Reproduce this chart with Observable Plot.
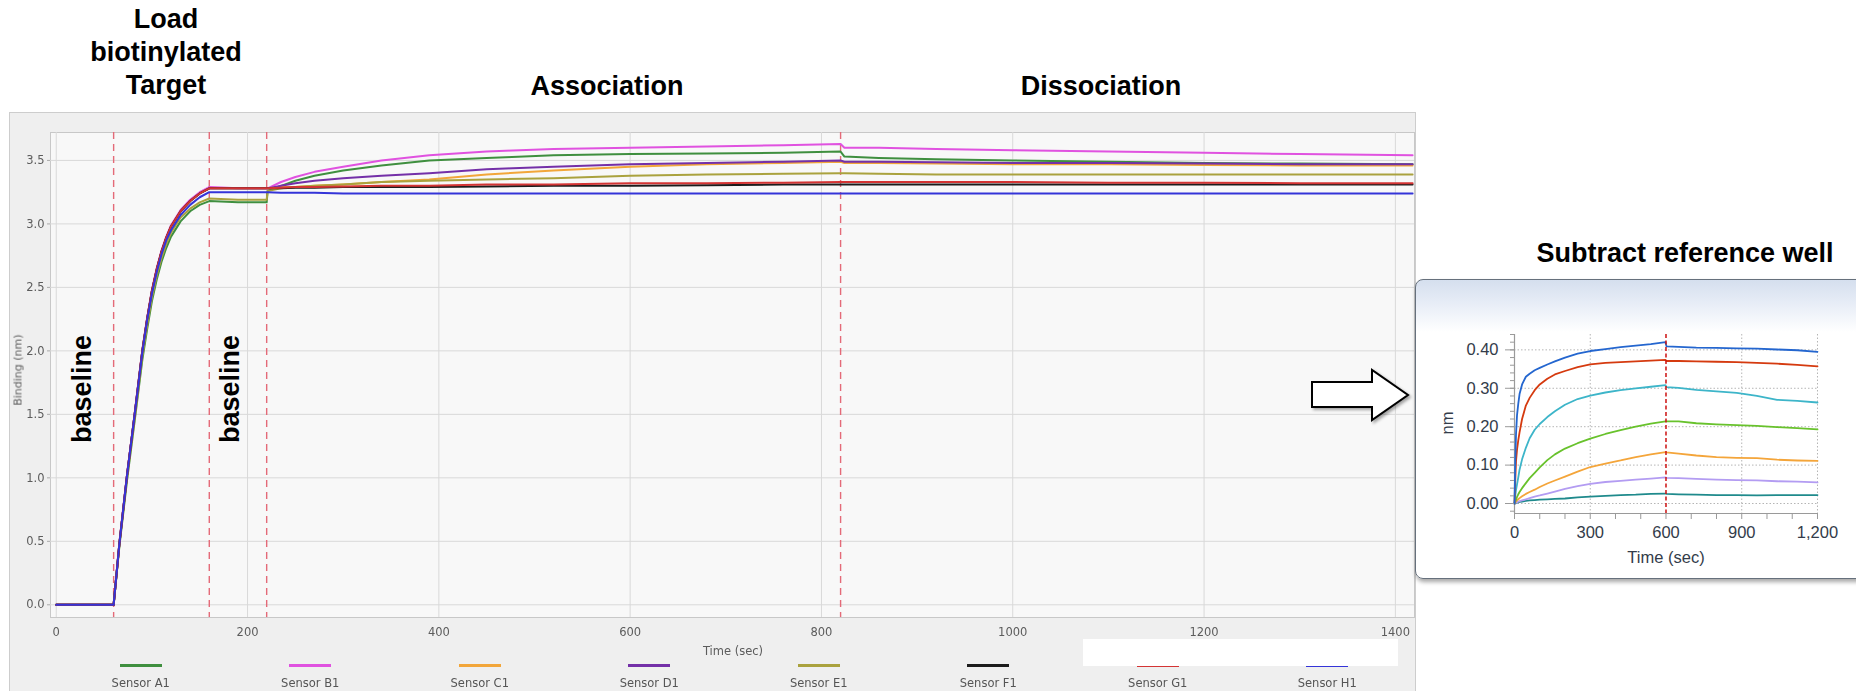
<!DOCTYPE html>
<html>
<head>
<meta charset="utf-8">
<script src="https://cdn.jsdelivr.net/npm/d3@7"></script>
<script src="https://cdn.jsdelivr.net/npm/@observablehq/plot@0.6"></script>
<style>
  html, body { margin: 0; padding: 0; background: #fff; }
  body { width: 1856px; height: 691px; position: relative; overflow: hidden; font-family: "Liberation Sans", Arial, sans-serif; }
  .abs { position: absolute; }
  .ctr { transform: translate(-50%, -50%); white-space: nowrap; }
  .rot { transform: translate(-50%, -50%) rotate(-90deg); white-space: nowrap; }
  .phase { font-weight: bold; font-size: 27px; color: #000; text-align: center; }
  #panel { left: 9px; top: 112px; width: 1407px; height: 600px; background: #efefef; border: 1px solid #cdcdcd; box-sizing: border-box; filter: blur(0.55px); }
  #mainChart { left: 10px; top: 112px; width: 1407px; filter: blur(0.55px); }
  .legendItem { position: absolute; text-align: center; font-family: "DejaVu Sans", sans-serif; font-size: 11.5px; color: #555; filter: blur(0.4px); }
  .legendItem .sw { width: 42px; height: 3px; margin: 0 auto 9px auto; }
  #insetBox { left: 1415px; top: 279px; width: 480px; height: 300px; box-sizing: border-box; border: 1.5px solid #66707c; border-radius: 8px;
              background: linear-gradient(to bottom, #d5dfee 0px, #e6ecf6 22px, #ffffff 52px, #ffffff 100%);
              box-shadow: 1px 3px 4px rgba(0,0,0,0.35); }
  #insetChart { left: 1420px; top: 285px; width: 436px; }
  .insetLabel { font-family: "Liberation Sans", Arial, sans-serif; font-size: 16.5px; color: #333c4a; }
</style>
</head>
<body>
<div id="panel" class="abs"></div>
<div id="mainChart" class="abs"></div>
<div id="legend"></div>
<div id="insetBox" class="abs"></div>
<div id="insetChart" class="abs"></div>
<div id="labels"></div>
<svg class="abs" style="left:1300px;top:360px;overflow:visible" width="120" height="70">
  <defs>
    <filter id="arrowShadow" x="-20%" y="-30%" width="150%" height="170%">
      <feDropShadow dx="2" dy="2" stdDeviation="1.5" flood-color="#000" flood-opacity="0.35"/>
    </filter>
  </defs>
  <polygon points="12,22 72,22 72,10 108,35 72,60 72,47 12,47" fill="#fff" stroke="#000" stroke-width="2" stroke-linejoin="miter" filter="url(#arrowShadow)"/>
</svg>

<script>
// ---------- Main sensorgram: loading, baseline, association, dissociation ----------
const sensors = ["Sensor A1", "Sensor B1", "Sensor C1", "Sensor D1", "Sensor E1", "Sensor F1", "Sensor G1", "Sensor H1"];
const sensorColors = ["#3f8f3f", "#e052e0", "#f2a63a", "#7430a8", "#aaa23e", "#1c1c1c", "#d43434", "#3434d8"];

// time points (sec)
const times = [0, 60, 66, 74, 82, 90, 95, 100, 105, 110, 115, 120, 130, 140, 150, 160,
               190, 220, 221, 235, 250, 270, 300, 340, 390, 450, 520, 600, 680, 760, 820,
               824, 860, 920, 1000, 1100, 1200, 1300, 1418];

// binding (nm) per sensor
const sensorA1 = [0, 0, 0.46, 0.98, 1.45, 1.93, 2.17, 2.39, 2.56, 2.70, 2.81, 2.90, 3.02, 3.10, 3.15, 3.18,
                  3.17, 3.17, 3.26, 3.30, 3.34, 3.38, 3.42, 3.46, 3.50, 3.52, 3.54, 3.55, 3.555, 3.56, 3.57,
                  3.53, 3.52, 3.51, 3.50, 3.49, 3.48, 3.475, 3.47];
const sensorB1 = [0, 0, 0.49, 1.03, 1.51, 2.01, 2.26, 2.48, 2.65, 2.79, 2.90, 2.99, 3.11, 3.19, 3.25, 3.29,
                  3.28, 3.28, 3.28, 3.33, 3.37, 3.41, 3.45, 3.50, 3.54, 3.57, 3.59, 3.60, 3.61, 3.62, 3.63,
                  3.60, 3.60, 3.59, 3.58, 3.57, 3.56, 3.55, 3.54];
const sensorC1 = [0, 0, 0.48, 1.02, 1.50, 2.00, 2.25, 2.47, 2.64, 2.78, 2.89, 2.98, 3.10, 3.18, 3.24, 3.28,
                  3.28, 3.28, 3.28, 3.29, 3.29, 3.30, 3.31, 3.33, 3.35, 3.39, 3.42, 3.45, 3.47, 3.48, 3.49,
                  3.48, 3.48, 3.475, 3.47, 3.47, 3.465, 3.46, 3.46];
const sensorD1 = [0, 0, 0.48, 1.02, 1.50, 2.00, 2.25, 2.47, 2.64, 2.78, 2.89, 2.98, 3.10, 3.18, 3.24, 3.28,
                  3.28, 3.28, 3.28, 3.30, 3.32, 3.34, 3.36, 3.38, 3.40, 3.43, 3.45, 3.47, 3.48, 3.49, 3.50,
                  3.49, 3.49, 3.485, 3.48, 3.48, 3.475, 3.47, 3.47];
const sensorE1 = [0, 0, 0.47, 1.00, 1.47, 1.96, 2.20, 2.42, 2.59, 2.73, 2.84, 2.93, 3.05, 3.12, 3.17, 3.20,
                  3.19, 3.19, 3.26, 3.28, 3.29, 3.30, 3.31, 3.33, 3.34, 3.35, 3.36, 3.38, 3.39, 3.395, 3.40,
                  3.40, 3.395, 3.39, 3.39, 3.39, 3.39, 3.39, 3.39];
const sensorF1 = [0, 0, 0.48, 1.02, 1.50, 2.00, 2.25, 2.47, 2.64, 2.78, 2.89, 2.98, 3.10, 3.18, 3.24, 3.28,
                  3.28, 3.28, 3.28, 3.28, 3.285, 3.285, 3.29, 3.29, 3.29, 3.295, 3.30, 3.30, 3.305, 3.31, 3.31,
                  3.31, 3.31, 3.31, 3.31, 3.31, 3.31, 3.31, 3.31];
const sensorG1 = [0, 0, 0.48, 1.02, 1.50, 2.00, 2.25, 2.47, 2.64, 2.78, 2.89, 2.98, 3.10, 3.18, 3.24, 3.28,
                  3.28, 3.28, 3.28, 3.285, 3.29, 3.29, 3.295, 3.30, 3.30, 3.31, 3.31, 3.32, 3.32, 3.325, 3.33,
                  3.33, 3.33, 3.33, 3.33, 3.325, 3.325, 3.32, 3.32];
const sensorH1 = [0, 0, 0.48, 1.02, 1.50, 1.99, 2.24, 2.45, 2.62, 2.76, 2.87, 2.95, 3.07, 3.15, 3.21, 3.25,
                  3.25, 3.25, 3.25, 3.245, 3.245, 3.245, 3.24, 3.24, 3.24, 3.24, 3.24, 3.24, 3.24, 3.24, 3.24,
                  3.24, 3.24, 3.24, 3.24, 3.24, 3.24, 3.24, 3.24];

const phaseBoundaries = [60, 160, 220, 820];
const mainXTicks = [0, 200, 400, 600, 800, 1000, 1200, 1400];
const mainYTicks = [0, 0.5, 1.0, 1.5, 2.0, 2.5, 3.0, 3.5];

const sensorSeries = [sensorA1, sensorB1, sensorC1, sensorD1, sensorE1, sensorF1, sensorG1, sensorH1];
const mainRows = sensors.flatMap((s, k) => times.map((t, i) => ({t, v: sensorSeries[k][i], sensor: s})));

const mainChart = Plot.plot({
  width: 1407, height: 579,
  marginLeft: 40, marginRight: 3, marginTop: 20, marginBottom: 74,
  x: {domain: [-6, 1420]},
  y: {domain: [-0.1, 3.72]},
  color: {domain: sensors, range: sensorColors},
  style: {background: "transparent", fontFamily: "DejaVu Sans, sans-serif", fontSize: "11.5px", color: "#5c5c5c"},
  marks: [
    Plot.frame({fill: "#f8f8f8", stroke: "#c8c8c8"}),
    Plot.gridY(mainYTicks, {stroke: "#d9d9d9", strokeOpacity: 1}),
    Plot.gridX(mainXTicks, {stroke: "#d9d9d9", strokeOpacity: 1}),
    Plot.ruleX(phaseBoundaries, {stroke: "#e46a78", strokeWidth: 1.4, strokeDasharray: "7,5"}),
    Plot.line(mainRows, {x: "t", y: "v", z: "sensor", stroke: "sensor", strokeWidth: 2}),
    Plot.axisY(mainYTicks, {tickFormat: ".1f", tickSize: 3, tickPadding: 3, label: null, stroke: "#aaa"}),
    Plot.axisX(mainXTicks, {tickSize: 0, tickPadding: 10, tickFormat: "d", label: null})
  ]
});
document.getElementById("mainChart").appendChild(mainChart);

// legend under the main chart
const legend = document.getElementById("legend");
sensors.forEach((s, k) => {
  const item = document.createElement("div");
  item.className = "legendItem";
  item.style.left = (56 + k * 169.5) + "px";
  item.style.top = "664px";
  item.style.width = "169.5px";
  item.innerHTML = `<div class="sw" style="background:${sensorColors[k]}"></div>${s}`;
  legend.appendChild(item);
});
const mask = document.createElement("div");
mask.className = "abs";
Object.assign(mask.style, {left: "1083px", top: "639px", width: "315px", height: "27px", background: "#fff"});
legend.appendChild(mask);

// ---------- Inset: reference-subtracted association / dissociation ----------
const insetTimes = [0, 3, 6, 10, 15, 20, 30, 45, 60, 80, 100, 130, 160, 200, 250, 300, 360, 420, 480, 540,
                    598, 602, 650, 720, 800, 880, 960, 1040, 1120, 1200];
const insetCurve1 = [0, 0.11, 0.18, 0.23, 0.26, 0.285, 0.31, 0.33, 0.338, 0.347, 0.353, 0.362, 0.370, 0.380, 0.390, 0.397, 0.402, 0.407, 0.411, 0.415,
                     0.420, 0.409, 0.408, 0.406, 0.405, 0.404, 0.403, 0.401, 0.399, 0.395];
const insetCurve2 = [0, 0.06, 0.11, 0.14, 0.165, 0.185, 0.22, 0.255, 0.275, 0.295, 0.31, 0.325, 0.336, 0.345, 0.355, 0.362, 0.366, 0.368, 0.370, 0.372,
                     0.374, 0.371, 0.371, 0.370, 0.369, 0.368, 0.366, 0.364, 0.361, 0.357];
const insetCurve3 = [0, 0.02, 0.035, 0.05, 0.068, 0.088, 0.115, 0.145, 0.170, 0.192, 0.207, 0.225, 0.240, 0.257, 0.272, 0.281, 0.289, 0.295, 0.300, 0.304,
                     0.308, 0.303, 0.301, 0.296, 0.292, 0.288, 0.280, 0.270, 0.267, 0.263];
const insetCurve4 = [0, 0.005, 0.01, 0.017, 0.024, 0.030, 0.040, 0.053, 0.066, 0.080, 0.094, 0.113, 0.128, 0.143, 0.157, 0.169, 0.181, 0.191, 0.200, 0.208,
                     0.214, 0.214, 0.214, 0.209, 0.206, 0.204, 0.202, 0.199, 0.196, 0.193];
const insetCurve5 = [0, 0.003, 0.005, 0.008, 0.011, 0.014, 0.019, 0.025, 0.030, 0.036, 0.043, 0.052, 0.060, 0.070, 0.083, 0.095, 0.104, 0.112, 0.121, 0.128,
                     0.134, 0.133, 0.130, 0.125, 0.121, 0.119, 0.118, 0.114, 0.112, 0.111];
const insetCurve6 = [0, 0.001, 0.002, 0.003, 0.005, 0.006, 0.008, 0.011, 0.014, 0.018, 0.021, 0.026, 0.031, 0.038, 0.045, 0.051, 0.056, 0.059, 0.062, 0.065,
                     0.068, 0.067, 0.066, 0.064, 0.062, 0.061, 0.060, 0.058, 0.057, 0.055];
const insetCurve7 = [0, 0, 0.001, 0.002, 0.003, 0.004, 0.005, 0.007, 0.008, 0.009, 0.010, 0.011, 0.012, 0.013, 0.016, 0.018, 0.020, 0.022, 0.023, 0.025,
                     0.026, 0.025, 0.024, 0.023, 0.022, 0.022, 0.021, 0.022, 0.022, 0.022];

// drawn lowest first so the strongest response sits on top
const insetNames  = ["curve 7", "curve 6", "curve 5", "curve 4", "curve 3", "curve 2", "curve 1"];
const insetColors = ["#1f8a8c", "#b39cf2", "#f4a53a", "#68c22c", "#3db5c9", "#d53a0f", "#2466cf"];
const insetSeries = [insetCurve7, insetCurve6, insetCurve5, insetCurve4, insetCurve3, insetCurve2, insetCurve1];
const insetRows = insetNames.flatMap((n, k) => insetTimes.map((t, i) => ({t, v: insetSeries[k][i], curve: n})));

const insetYTicks = [0, 0.1, 0.2, 0.3, 0.4];
const insetYMinor = d3.range(-0.02, 0.441, 0.02);
const insetXTicks = d3.range(0, 1201, 100);
const insetXGrid = [300, 900, 1200];
const insetPhaseSwitch = [600];

const inset = Plot.plot({
  width: 436, height: 290,
  marginLeft: 94, marginRight: 38, marginTop: 49, marginBottom: 62,
  x: {domain: [0, 1204]},
  y: {domain: [-0.026, 0.44]},
  color: {domain: insetNames, range: insetColors},
  style: {background: "transparent", fontFamily: "Liberation Sans, Arial, sans-serif", fontSize: "16.5px", color: "#333c4a"},
  marks: [
    Plot.gridY(insetYTicks, {stroke: "#b5b5b5", strokeOpacity: 1, strokeDasharray: "1.5,2"}),
    Plot.gridX(insetXGrid, {stroke: "#b5b5b5", strokeOpacity: 1, strokeDasharray: "1.5,2"}),
    Plot.ruleX([0], {stroke: "#9a9a9a", strokeWidth: 1.2}),
    Plot.ruleY([-0.026], {stroke: "#9a9a9a", strokeWidth: 1.2}),
    Plot.line(insetRows, {x: "t", y: "v", z: "curve", stroke: "curve", strokeWidth: 1.8}),
    Plot.ruleX(insetPhaseSwitch, {stroke: "#cc1111", strokeWidth: 1.5, strokeDasharray: "4,2.5"}),
    Plot.axisY(insetYMinor, {tickSize: 4, tickFormat: () => "", stroke: "#9a9a9a", label: null}),
    Plot.axisY(insetYTicks, {tickSize: 9, tickPadding: 7, tickFormat: ".2f", stroke: "#9a9a9a", label: null}),
    Plot.axisX(insetXTicks, {tickSize: 6, tickPadding: 7, stroke: "#9a9a9a", label: null,
      tickFormat: d => d % 300 === 0 ? d3.format(",")(d) : ""})
  ]
});
document.getElementById("insetChart").appendChild(inset);

// ---------- Text annotations ----------
const labels = document.getElementById("labels");
function addLabel(html, x, y, cls, extra) {
  const el = document.createElement("div");
  el.className = "abs " + cls;
  el.style.left = x + "px";
  el.style.top = y + "px";
  if (extra) Object.assign(el.style, extra);
  el.innerHTML = html;
  labels.appendChild(el);
}
addLabel("Load<br>biotinylated<br>Target", 166, 52, "ctr phase", {lineHeight: "33px"});
addLabel("Association", 607, 86, "ctr phase");
addLabel("Dissociation", 1101, 86, "ctr phase");
addLabel("baseline", 82, 389, "rot phase");
addLabel("baseline", 230, 389, "rot phase");
addLabel("Subtract reference well", 1685, 253, "ctr phase");
addLabel("Binding (nm)", 18, 370, "rot", {fontFamily: "DejaVu Sans, sans-serif", fontSize: "11px", color: "#5c5c5c", filter: "blur(0.5px)"});
addLabel("Time (sec)", 733, 651, "ctr", {fontFamily: "DejaVu Sans, sans-serif", fontSize: "11.5px", color: "#5c5c5c", filter: "blur(0.5px)"});
addLabel("Time (sec)", 1666, 557, "ctr insetLabel");
addLabel("nm", 1447, 423, "rot insetLabel");
</script>
</body>
</html>
